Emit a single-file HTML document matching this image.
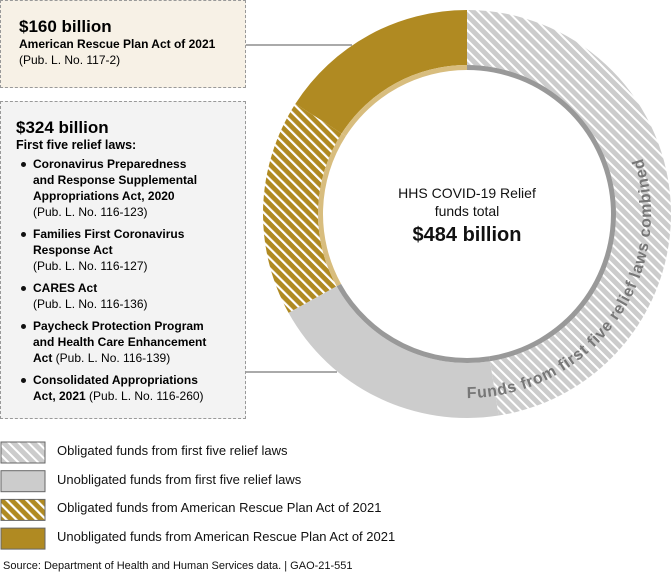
<!DOCTYPE html>
<html><head><meta charset="utf-8">
<style>
body{margin:0;width:672px;height:577px;background:#fff;font-family:"Liberation Sans",Arial,sans-serif;position:relative;overflow:hidden}
.box{position:absolute;left:0;width:246px;border:1px dashed #999;box-sizing:border-box}
.b1{top:0;height:88px;background:#f7f1e6;padding:16px 0 0 18px}
.b2{top:101px;height:318px;background:#f3f3f3;padding:16px 0 0 15px}
.big{font-weight:bold;font-size:17px;line-height:20px}
.bl{font-weight:bold;font-size:12px;line-height:15px}
.n{font-weight:normal;font-size:12px}
ul{margin:3px 0 0 0;padding:0;list-style:none}
li{position:relative;padding-left:17px;font-size:12px;line-height:16px;margin-bottom:6px}
li:before{content:"";position:absolute;left:5px;top:6px;width:5px;height:5px;border-radius:50%;background:#111}
.lg{position:absolute;left:57px;font-size:13px;color:#111}
.src{position:absolute;left:3px;top:560px;font-size:11px;color:#111}
</style></head><body>
<div class="box b1">
<div class="big">$160 billion</div>
<div class="bl">American Rescue Plan Act of 2021</div>
<div class="n" style="line-height:16px">(Pub. L. No. 117-2)</div>
</div>
<div class="box b2">
<div class="big">$324 billion</div>
<div class="bl" style="font-size:12.5px">First five relief laws:</div>
<ul>
<li><b>Coronavirus Preparedness<br>and Response Supplemental<br>Appropriations Act, 2020</b><br>(Pub. L. No. 116-123)</li>
<li><b>Families First Coronavirus<br>Response Act</b><br>(Pub. L. No. 116-127)</li>
<li><b>CARES Act</b><br>(Pub. L. No. 116-136)</li>
<li><b>Paycheck Protection Program<br>and Health Care Enhancement<br>Act</b> (Pub. L. No. 116-139)</li>
<li><b>Consolidated Appropriations<br>Act, 2021</b> (Pub. L. No. 116-260)</li>
</ul>
</div>
<svg id="chart" width="672" height="577" style="position:absolute;left:0;top:0">
<defs>
<pattern id="hg" patternUnits="userSpaceOnUse" width="7" height="7" patternTransform="rotate(-45)"><rect width="7" height="7" fill="#cccccc"/><rect width="2" height="7" fill="#fff"/></pattern>
<pattern id="hy" patternUnits="userSpaceOnUse" width="7" height="7" patternTransform="rotate(-45)"><rect width="7" height="7" fill="#b08a22"/><rect width="2.2" height="7" fill="#fff"/></pattern>
</defs>
<line x1="246" y1="45" x2="352" y2="45" stroke="#555"/>
<line x1="246" y1="372" x2="337" y2="372" stroke="#555"/>
<g id="slices"></g>
<path id="tp" d="M 467 398 A 184 184 0 1 0 467 30" fill="none"/>
<text font-size="16" font-weight="bold" fill="#777" letter-spacing="0.7"><textPath href="#tp" startOffset="0%">Funds from first five relief laws combined</textPath></text>
<text x="467" y="198" text-anchor="middle" font-size="14" fill="#111">HHS COVID-19 Relief</text>
<text x="467" y="216" text-anchor="middle" font-size="14" fill="#111">funds total</text>
<text x="467" y="241" text-anchor="middle" font-size="20" font-weight="bold" fill="#111">$484 billion</text>
<g id="legend"></g>
</svg>
<div class="lg" style="top:443px">Obligated funds from first five relief laws</div>
<div class="lg" style="top:472px">Unobligated funds from first five relief laws</div>
<div class="lg" style="top:500px">Obligated funds from American Rescue Plan Act of 2021</div>
<div class="lg" style="top:529px">Unobligated funds from American Rescue Plan Act of 2021</div>
<div class="src">Source: Department of Health and Human Services data.  |  GAO-21-551</div>
<script>
const categories=["ARP unobligated","ARP obligated","Five laws unobligated","Five laws obligated"];
const values=[77,83,94,230];
const groups=["arp","arp","five","five"];
const fills=["#b08a22","url(#hy)","#cccccc","url(#hg)"];
const cx=467,cy=214,R=204,r=149,ri=144;
const ns="http://www.w3.org/2000/svg";
const total=values.reduce((a,b)=>a+b,0);
function pt(a,rad){return [cx-rad*Math.sin(a),cy-rad*Math.cos(a)];}
function arc(a0,a1,ro,rn){const p0=pt(a0,ro),p1=pt(a1,ro),p2=pt(a1,rn),p3=pt(a0,rn);const L=(a1-a0)>Math.PI?1:0;
return `M${p0}A${ro} ${ro} 0 ${L} 0 ${p1}L${p2}A${rn} ${rn} 0 ${L} 1 ${p3}Z`;}
const g=document.getElementById('slices');
let a=0;
values.forEach((v,i)=>{const a1=a+v/total*2*Math.PI;
const p=document.createElementNS(ns,'path');p.setAttribute('d',arc(a,a1,R,r));p.setAttribute('fill',fills[i]);


g.appendChild(p);
const q=document.createElementNS(ns,'path');q.setAttribute('d',arc(a,a1,r,ri));q.setAttribute('fill',groups[i]=="arp"?"#d8bd7e":"#999999");


g.appendChild(q);a=a1;});
const lf=["url(#hg)","#cccccc","url(#hy)","#b08a22"];
const lgG=document.getElementById('legend');
lf.forEach((f,i)=>{const s=document.createElementNS(ns,'rect');s.setAttribute('x',1);s.setAttribute('y',442+i*28.7);s.setAttribute('width',44);s.setAttribute('height',21);s.setAttribute('fill',f);s.setAttribute('stroke','#666');


lgG.appendChild(s);});
</script>
</body></html>
